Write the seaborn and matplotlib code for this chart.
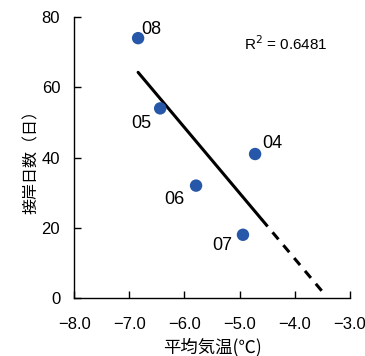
import numpy as np
import pandas as pd
import matplotlib
matplotlib.use('Agg')
import matplotlib.pyplot as plt
import seaborn as sns

# data
years = ['08', '05', '04', '06', '07']
temp = [-6.84, -6.44, -4.72, -5.79, -4.94]
days = [74, 54, 41, 32, 18]
r2_text = 'R$^2$ = 0.6481'

df = pd.DataFrame({'year': years, 'temp': temp, 'days': days})

sns.set_style('white')
plt.rcParams['font.family'] = ['Noto Sans CJK JP', 'DejaVu Sans']
plt.rcParams.update({
    'text.color': 'black', 'axes.labelcolor': 'black',
    'xtick.color': 'black', 'ytick.color': 'black',
    'xtick.bottom': True, 'ytick.left': True,
})

fig = plt.figure(figsize=(3.65, 3.56), dpi=100)
ax = fig.add_axes([0.203, 0.163, 0.756, 0.789])

# regression line (solid over data range, dashed extrapolation)
slope, icpt = np.polyfit(df['temp'], df['days'], 1)
xs = np.array([df['temp'].min(), -4.6])
xd = np.array([-4.6, -3.48])
ax.plot(xs, slope * xs + icpt, color='black', lw=2.2)
ax.plot(xd, slope * xd + icpt, color='black', lw=2.2, ls=(0, (3, 2.5)))

sns.scatterplot(data=df, x='temp', y='days', ax=ax, color='#2757a8',
                s=80, edgecolor='none', zorder=3)

lat = ['Liberation Sans', 'DejaVu Sans']
offsets = {'08': (2, 3), '05': (-21, -14), '04': (5, 4), '06': (-23, -13), '07': (-22, -11)}
for yr, x, y in zip(years, temp, days):
    ax.annotate(yr, (x, y), xytext=offsets[yr], textcoords='offset points',
                fontsize=13, family=lat)

ax.text(-4.93, 70.5, r2_text, fontsize=11, family=lat)

ax.set_xlim(-8, -3)
ax.set_ylim(0, 80)
xt = np.arange(-8, -2.9, 1.0)
ax.set_xticks(xt)
ax.set_xticklabels(['−%.1f' % abs(v) for v in xt])
ax.set_yticks([0, 20, 40, 60, 80])
ax.tick_params(which='major', direction='in', length=5, width=1,
               labelsize=12, bottom=True, left=True)
ax.tick_params(axis='x', pad=14)
ax.tick_params(axis='y', pad=10)
for lab in ax.get_xticklabels() + ax.get_yticklabels():
    lab.set_family(lat)
for s in ['top', 'right']:
    ax.spines[s].set_visible(False)
for s in ['left', 'bottom']:
    ax.spines[s].set_color('black')
    ax.spines[s].set_linewidth(1)

ax.set_xlabel('平均気温(℃)', fontsize=12.5, labelpad=4)
ax.set_ylabel('接岸日数（日）', fontsize=11.5, labelpad=1)

fig.savefig('out.png', dpi=100)
